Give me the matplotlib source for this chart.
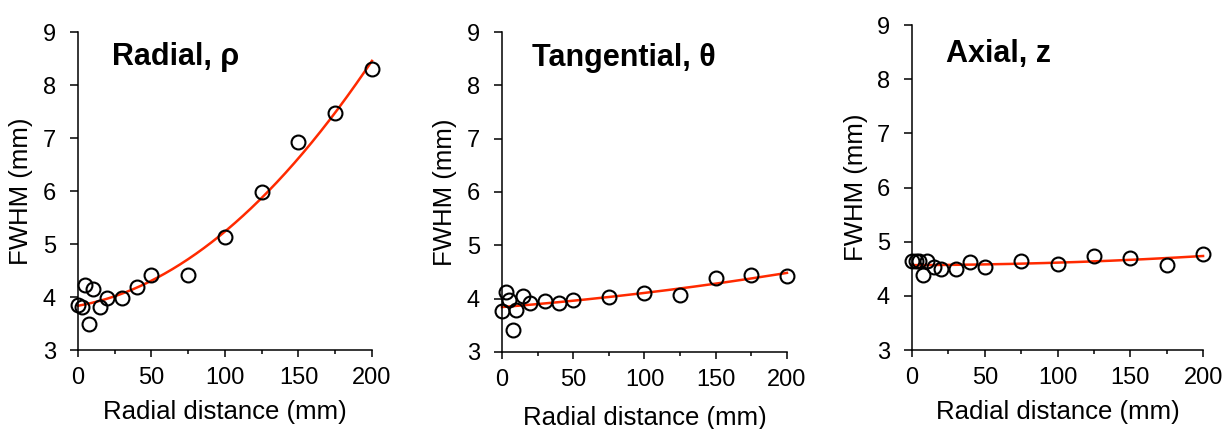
import numpy as np
import matplotlib
matplotlib.use("Agg")
import matplotlib.pyplot as plt
from matplotlib.ticker import MultipleLocator

plt.rcParams['font.family'] = ['Liberation Sans', 'DejaVu Sans']

# Radial distance of the source positions (mm)
distance = [0, 2.5, 5, 7.5, 10, 15, 20, 30, 40, 50, 75, 100, 125, 150, 175, 200]

# FWHM values (mm) for each direction
fwhm_radial = [3.84, 3.81, 4.22, 3.50, 4.16, 3.81, 3.98, 3.98, 4.18, 4.41,
               4.42, 5.14, 5.99, 6.92, 7.48, 8.30]
fwhm_tangential = [3.77, 4.13, 3.97, 3.41, 3.78, 4.05, 3.91, 3.95, 3.91, 3.97,
                   4.04, 4.11, 4.06, 4.38, 4.44, 4.43]
fwhm_axial = [4.64, 4.64, 4.64, 4.39, 4.64, 4.53, 4.50, 4.50, 4.63, 4.53,
              4.64, 4.59, 4.73, 4.70, 4.57, 4.78]

titles = ["Radial, \u03c1", "Tangential, \u03b8", "Axial, z"]
series = [fwhm_radial, fwhm_tangential, fwhm_axial]

# axes rectangles [left, bottom, width, height] in figure fraction
rects = [
    [0.0634, 0.1841, 0.2390, 0.7413],
    [0.4081, 0.1795, 0.2317, 0.7459],
    [0.7415, 0.1841, 0.2366, 0.7576],
]
title_pos = [(23, 8.38), (21, 8.36), (23.4, 8.32)]
xlabel_pad = [8, 11, 8]

fig = plt.figure(figsize=(12.3, 4.29), dpi=100)
x = np.array(distance, dtype=float)

for rect, title, vals, tpos, lp in zip(rects, titles, series, title_pos, xlabel_pad):
    ax = fig.add_axes(rect)
    y = np.array(vals)
    # second-order polynomial trend line
    coef = np.polyfit(x, y, 2)
    xs = np.linspace(0, 200, 300)
    ax.plot(xs, np.polyval(coef, xs), color="#ff2a00", lw=1.8, zorder=2,
            clip_on=False)
    ax.plot(x, y, linestyle="none", marker="o", ms=10, mfc="none",
            mec="black", mew=1.5, zorder=3, clip_on=False)

    ax.set_xlim(0, 200)
    ax.set_ylim(3, 9)
    ax.xaxis.set_major_locator(MultipleLocator(50))
    ax.xaxis.set_minor_locator(MultipleLocator(25))
    ax.yaxis.set_major_locator(MultipleLocator(1))
    for side in ("top", "right"):
        ax.spines[side].set_visible(False)
    for side in ("left", "bottom"):
        ax.spines[side].set_linewidth(1.1)
    ax.tick_params(which="both", direction="out", width=1.1, labelsize=17,
                   color="black")
    ax.tick_params(axis="x", which="major", length=5, pad=7)
    ax.tick_params(axis="x", which="minor", length=3)
    ax.tick_params(axis="y", which="major", length=6, pad=10)
    ax.set_xlabel("Radial distance (mm)", fontsize=18.5, labelpad=lp)
    ax.set_ylabel("FWHM (mm)", fontsize=18.5, labelpad=6.5)
    ax.text(tpos[0], tpos[1], title, fontsize=22, fontweight="bold",
            ha="left", va="baseline")

fig.savefig("out.png", dpi=100)
